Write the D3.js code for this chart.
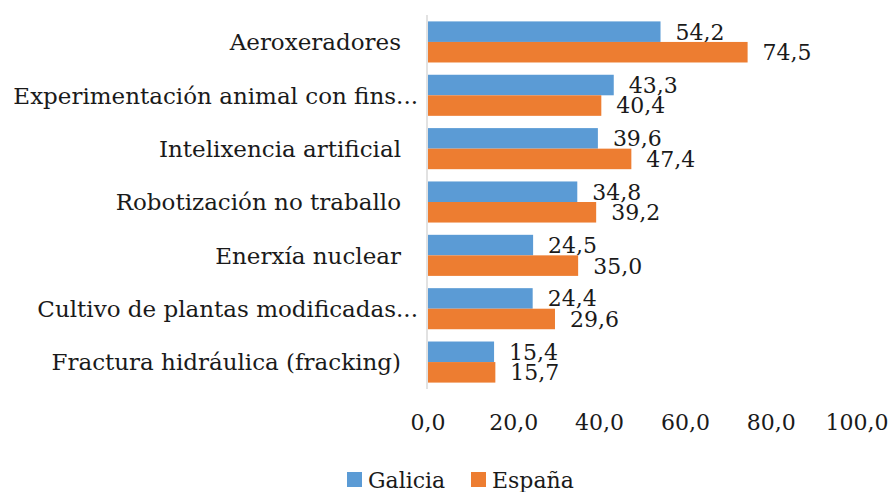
<!DOCTYPE html>
<html>
<head>
<meta charset="utf-8">
<script src="https://cdn.jsdelivr.net/npm/d3@7"></script>
<style>
  body { margin: 0; background: #fff; }
  text { font-family: 'DejaVu Serif', serif; fill: #1a1a1a; }
</style>
</head>
<body>
<div id="app"></div>
<script>
const categories = [
  'Aeroxeradores',
  'Experimentación animal con fins...',
  'Intelixencia artificial',
  'Robotización no traballo',
  'Enerxía nuclear',
  'Cultivo de plantas modificadas...',
  'Fractura hidráulica (fracking)'
];
const galicia = [54.2, 43.3, 39.6, 34.8, 24.5, 24.4, 15.4];
const espana = [74.5, 40.4, 47.4, 39.2, 35.0, 29.6, 15.7];
const seriesNames = ['Galicia', 'España'];
const xTicks = [0, 20, 40, 60, 80, 100];

const colors = ['#5b9bd5', '#ed7d31'];
const width = 891, height = 492;
const fontSize = 22;
const fmt = v => v.toFixed(1).replace('.', ',');

const svg = d3.select('#app')
  .append('svg')
  .attr('width', width)
  .attr('height', height);

const x = d3.scaleLinear().domain([0, 100]).range([428, 857]);

const y = d3.scaleBand()
  .domain(categories)
  .range([15, 389])
  .paddingInner(0.23)
  .paddingOuter(0.12);

const ySub = d3.scaleBand()
  .domain(seriesNames)
  .range([0, y.bandwidth()]);

const series = [galicia, espana];

series.forEach((vals, si) => {
  const g = svg.append('g').attr('fill', colors[si]);
  g.selectAll('rect')
    .data(vals)
    .join('rect')
    .attr('x', x(0))
    .attr('y', (d, i) => y(categories[i]) + ySub(seriesNames[si]))
    .attr('width', d => x(d) - x(0))
    .attr('height', ySub.bandwidth());

  svg.append('g')
    .selectAll('text')
    .data(vals)
    .join('text')
    .attr('x', d => x(d) + 15)
    .attr('y', (d, i) => y(categories[i]) + ySub(seriesNames[si]) + ySub.bandwidth() / 2)
    .attr('dy', '0.36em')
    .attr('font-size', fontSize)
    .text(d => fmt(d));
});

// category axis line
svg.append('line')
  .attr('x1', x(0) - 1)
  .attr('x2', x(0) - 1)
  .attr('y1', 15)
  .attr('y2', 389)
  .attr('stroke', '#d9d9d9')
  .attr('stroke-width', 1.5);

// category labels (truncated ones sit closer to the axis)
svg.append('g')
  .selectAll('text')
  .data(categories)
  .join('text')
  .attr('text-anchor', 'end')
  .attr('x', d => d.endsWith('...') ? 418 : 401)
  .attr('y', d => y(d) + y.bandwidth() / 2)
  .attr('dy', '0.36em')
  .attr('font-size', 23)
  .text(d => d);

// value axis tick labels
svg.append('g')
  .selectAll('text')
  .data(xTicks)
  .join('text')
  .attr('text-anchor', 'middle')
  .attr('x', d => x(d))
  .attr('y', 422)
  .attr('dy', '0.36em')
  .attr('font-size', fontSize)
  .text(d => fmt(d));

// legend
const legendX = [347, 471];
const legend = svg.append('g')
  .selectAll('g')
  .data(seriesNames)
  .join('g')
  .attr('transform', (d, i) => `translate(${legendX[i]},472)`);

legend.append('rect')
  .attr('width', 15)
  .attr('height', 15)
  .attr('fill', (d, i) => colors[i]);

legend.append('text')
  .attr('x', 21)
  .attr('y', 8)
  .attr('dy', '0.36em')
  .attr('font-size', fontSize)
  .text(d => d);
</script>
</body>
</html>
